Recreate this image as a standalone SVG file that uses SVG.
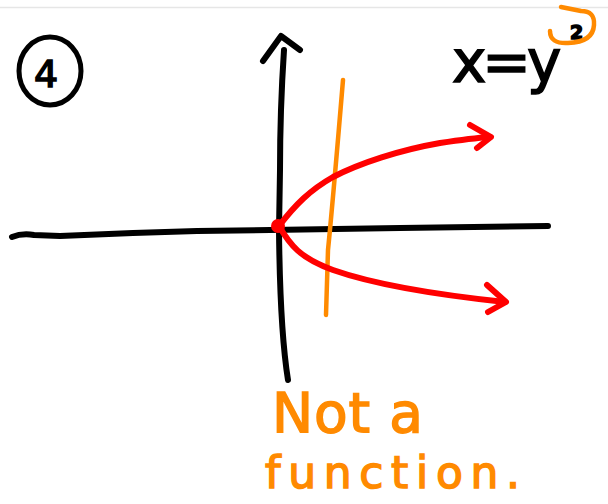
<svg xmlns="http://www.w3.org/2000/svg" width="608" height="504" viewBox="0 0 608 504">
<style>
.ink{fill:none;stroke-linecap:round;stroke-linejoin:round}
.blk{stroke:#000;stroke-width:6}
.red{stroke:#ff0000;stroke-width:6}
.org{stroke:#ff8a00;stroke-width:4.5}
.hand{font-family:"DejaVu Sans","Liberation Sans",sans-serif}
.otxt{fill:#ff8a00;stroke:#ff8a00;stroke-width:1.5}
.btxt{fill:#000;stroke:#000;stroke-width:1.5}
</style>
<rect width="608" height="504" fill="#fff"/>
<line x1="0" y1="7.5" x2="608" y2="7.5" stroke="#e6e6e6" stroke-width="1.5"/>
<g id="label-4">
<ellipse cx="50" cy="71" rx="31" ry="34" class="ink blk" style="stroke-width:5"/>
<text x="46" y="87" text-anchor="middle" class="hand btxt" font-size="38">4</text>
</g>
<g id="equation">
<text x="452" y="82" class="hand btxt" font-size="58" letter-spacing="-4">x=y</text>
<text x="570" y="39" class="hand btxt" font-size="19" font-weight="bold">2</text>
<path class="ink org" d="M550,31 Q550,44 568,43 Q593,42 594,25 Q595,11 581,11 L561,7"/>
</g>
<g id="axes">
<path class="ink blk" d="M284,50 Q280,110 280,170 L279,230 Q280,330 288,380"/>
<path class="ink blk" d="M263,61 L281,36 L300,50"/>
<path class="ink blk" d="M12,237 Q22,233 34,235 L60,236 L133,233 L197,231 L400,228 L548,226"/>
</g>
<g id="vertical-line-test">
<path class="ink org" d="M343,80 C338,140 333,200 328,250 L326,315"/>
</g>
<g id="parabola">
<path class="ink red" d="M279,226 C295,205 310,190 333,177 C360,163 400,150 440,143 C460,140 475,138 490,137"/>
<path class="ink red" d="M470,125 L491,137 L477,148"/>
<path class="ink red" d="M279,226 C290,245 300,258 333,270 C370,283 420,293 505,302"/>
<path class="ink red" d="M487,285 L506,302 L488,312"/>
<circle cx="278" cy="226" r="7" fill="#ff0000"/>
</g>
<g id="note">
<text x="272" y="432" class="hand otxt" font-size="55" textLength="151" lengthAdjust="spacing">Not a</text>
<text x="265" y="488" class="hand otxt" font-size="44" textLength="255" lengthAdjust="spacing">function.</text>
</g>
</svg>
